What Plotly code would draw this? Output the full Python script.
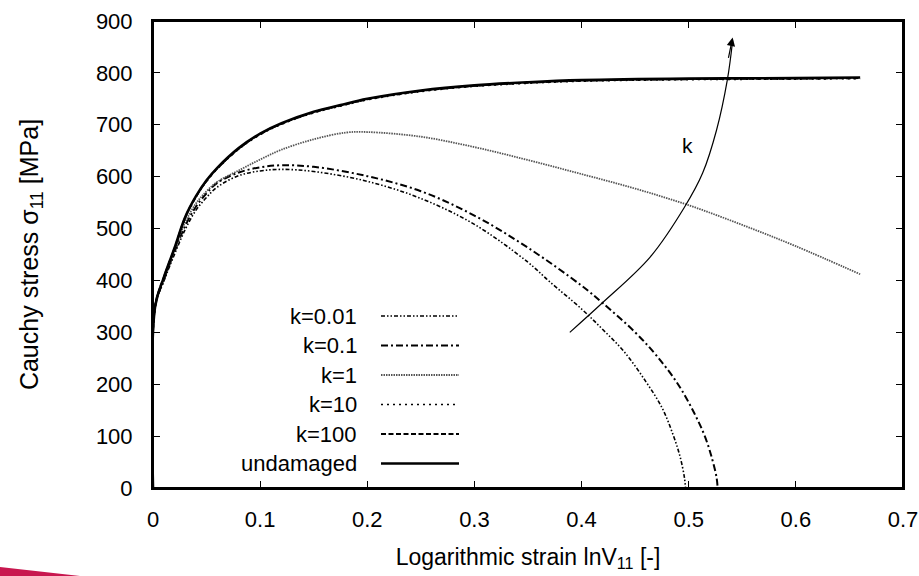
import plotly.graph_objects as go

# ---------------- data ----------------
x_undamaged = [0, 0.002, 0.01, 0.02, 0.03, 0.04, 0.05, 0.06, 0.08, 0.10, 0.12, 0.15, 0.175, 0.20, 0.25, 0.30, 0.35, 0.40, 0.50, 0.60, 0.66]
s_undamaged = [0, 350, 405, 462, 522, 562, 593, 617, 655, 683, 703, 725, 738, 750, 766, 776, 782, 786, 789, 790, 791]

x_k100 = x_undamaged
s_k100 = [0, 350, 405, 461, 521, 561, 592, 616, 654, 682, 702, 724, 737, 749, 765, 775, 781, 785, 788, 789, 790]

x_k10 = x_undamaged
s_k10 = [0, 350, 405, 461, 520, 560, 591, 615, 653, 681, 701, 723, 736, 748, 764, 774, 780, 784, 787, 788, 789]

x_k1 = [0, 0.002, 0.01, 0.02, 0.03, 0.04, 0.05, 0.06, 0.08, 0.10, 0.12, 0.15, 0.18, 0.20, 0.25, 0.30, 0.35, 0.40, 0.45, 0.50, 0.55, 0.60, 0.66]
s_k1 = [0, 350, 403, 458, 512, 548, 572, 590, 612, 633, 652, 672, 685, 686, 677, 657, 632, 605, 577, 545, 507, 466, 412]

x_k01 = [0, 0.002, 0.01, 0.02, 0.03, 0.04, 0.05, 0.06, 0.08, 0.10, 0.12, 0.15, 0.20, 0.25, 0.30, 0.35, 0.40, 0.42, 0.45, 0.47, 0.49, 0.505, 0.515, 0.522, 0.526, 0.527]
s_k01 = [0, 350, 400, 455, 505, 542, 568, 588, 608, 618, 622, 619, 601, 572, 525, 463, 390, 356, 300, 255, 200, 145, 100, 55, 20, 0]

x_k001 = [0, 0.002, 0.01, 0.02, 0.03, 0.04, 0.05, 0.06, 0.08, 0.10, 0.12, 0.15, 0.20, 0.25, 0.30, 0.35, 0.37, 0.40, 0.42, 0.44, 0.46, 0.475, 0.485, 0.492, 0.496, 0.497]
s_k001 = [0, 350, 398, 450, 498, 535, 560, 580, 602, 611, 614, 610, 591, 558, 508, 435, 398, 345, 305, 262, 205, 155, 105, 60, 20, 0]

arrow_x = [0.389, 0.419, 0.464, 0.496, 0.513, 0.526, 0.536, 0.541]
arrow_s = [300, 356, 445, 541, 607, 690, 786, 862]

legend_labels = ["k=0.01", "k=0.1", "k=1", "k=10", "k=100", "undamaged"]
x_ticks = [0, 0.1, 0.2, 0.3, 0.4, 0.5, 0.6, 0.7]
x_ticklabels = ["0", "0.1", "0.2", "0.3", "0.4", "0.5", "0.6", "0.7"]
y_ticks = [0, 100, 200, 300, 400, 500, 600, 700, 800, 900]

# ---------------- styles ----------------
FONT = "Liberation Sans, Arial, Helvetica, sans-serif"
FS = 22
styles = [
    dict(color="black", width=1.6, dash="4px,2px,1.5px,2px,1.5px,2px"),
    dict(color="black", width=2.0, dash="7px,3px,2px,3px"),
    dict(color="#555555", width=1.8, dash="1.5px,1px"),
    dict(color="black", width=1.6, dash="2px,4px"),
    dict(color="black", width=2.0, dash="5px,2.5px"),
    dict(color="black", width=2.6, dash="solid"),
]
series = [(x_k001, s_k001), (x_k01, s_k01), (x_k1, s_k1), (x_k10, s_k10), (x_k100, s_k100), (x_undamaged, s_undamaged)]

fig = go.Figure()
for (xs, ss), st, name in zip(series, styles, legend_labels):
    fig.add_trace(go.Scatter(x=xs, y=ss, mode="lines", name=name, line=st,
                             line_shape="spline", showlegend=False))

# curved arrow
fig.add_trace(go.Scatter(x=arrow_x, y=arrow_s, mode="lines", line=dict(color="black", width=1.2),
                         line_shape="spline", showlegend=False, hoverinfo="skip"))

L, R, T, B = 153, 16, 21, 88
W, H = 919, 576
pw, ph = W - L - R, H - T - B

def px(xp):
    return (xp - L) / pw

def py(yp):
    return (H - B - yp) / ph

annotations = [
    dict(x=arrow_x[-1], y=arrow_s[-1] + 6, ax=arrow_x[-2] + 0.0008, ay=arrow_s[-2] + 40,
         xref="x", yref="y", axref="x", ayref="y", text="", showarrow=True,
         arrowhead=2, arrowsize=1.4, arrowwidth=1.2, arrowcolor="black"),
    dict(x=0.499, y=661, xref="x", yref="y", text="k", showarrow=False,
         font=dict(family=FONT, size=21, color="black")),
]
shapes = [dict(type="rect", xref="paper", yref="paper", x0=0, x1=1, y0=0, y1=1,
               line=dict(color="black", width=2), fillcolor="rgba(0,0,0,0)", layer="above")]
rows = [316, 345.5, 375, 404.5, 434, 463.5]
for lab, st, yrow in zip(legend_labels, styles, rows):
    annotations.append(dict(x=px(359), y=py(yrow), xref="paper", yref="paper", text=lab,
                            xanchor="right", yanchor="middle", showarrow=False,
                            font=dict(family=FONT, size=FS, color="black")))
    shapes.append(dict(type="line", xref="paper", yref="paper", x0=px(381), x1=px(459),
                       y0=py(yrow), y1=py(yrow), line=st))

# decorative swoosh bottom-left
shapes.append(dict(type="path", xref="paper", yref="paper",
                   path=f"M {px(0)},{py(567)} L {px(80)},{py(576)} L {px(0)},{py(576)} Z",
                   fillcolor="#c8174f", line=dict(width=0)))

fig.update_layout(
    width=W, height=H,
    margin=dict(l=L, r=R, t=T, b=B, autoexpand=False),
    paper_bgcolor="white", plot_bgcolor="white",
    font=dict(family=FONT, size=FS, color="black"),
    annotations=annotations, shapes=shapes,
    showlegend=False,
)
fig.update_xaxes(range=[0, 0.7], tickvals=x_ticks, ticktext=x_ticklabels, automargin=False,
                 ticks="inside", ticklen=7, tickwidth=1, tickcolor="black",
                 tickfont=dict(family=FONT, size=FS), ticklabelstandoff=11,
                 showline=True, linecolor="black", linewidth=2, mirror="ticks",
                 showgrid=False, zeroline=False,
                 title=dict(text="Logarithmic strain lnV<sub>11</sub> [-]", standoff=17,
                            font=dict(family=FONT, size=23)))
fig.update_yaxes(range=[0, 900], tickvals=y_ticks, automargin=False,
                 ticks="inside", ticklen=7, tickwidth=1, tickcolor="black",
                 tickfont=dict(family=FONT, size=FS), ticklabelstandoff=14,
                 showline=True, linecolor="black", linewidth=2, mirror="ticks",
                 showgrid=False, zeroline=False,
                 title=dict(text="Cauchy stress σ<sub>11</sub> [MPa]", standoff=50,
                            font=dict(family=FONT, size=25)))

fig.write_html("out.html")
